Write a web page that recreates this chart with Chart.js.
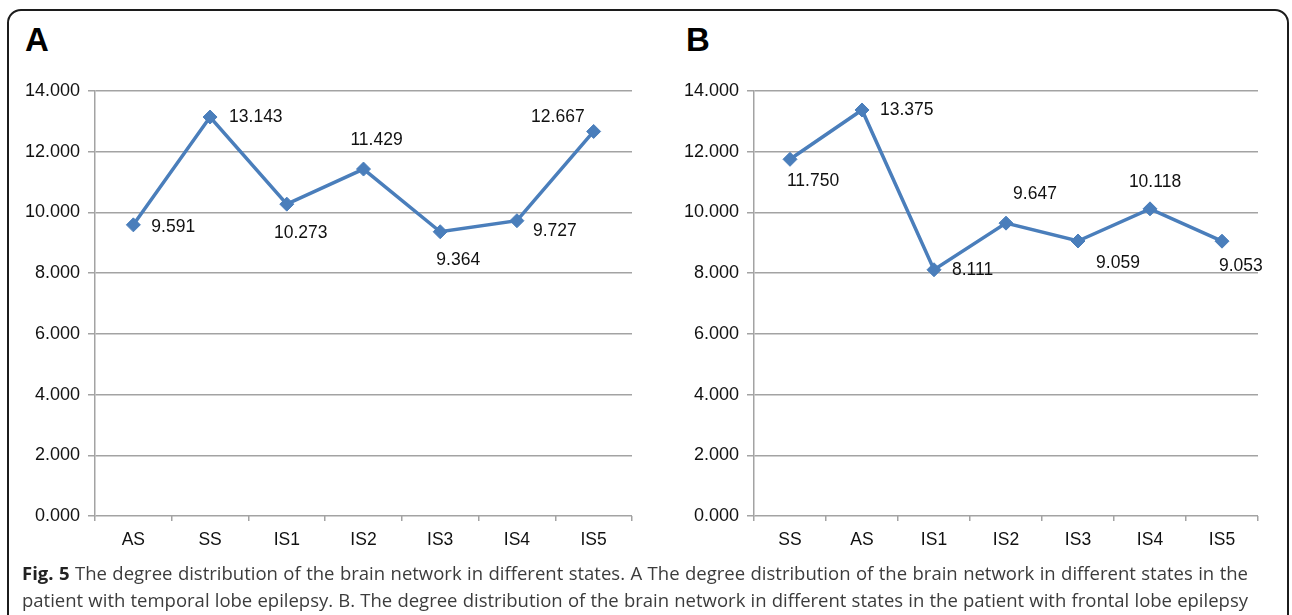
<!DOCTYPE html>
<html>
<head>
<meta charset="utf-8">
<script src="https://cdn.jsdelivr.net/npm/chart.js@4.4.1/dist/chart.umd.min.js"></script>
<style>
  html, body { margin: 0; padding: 0; background: #fff; }
  body { width: 1292px; height: 615px; overflow: hidden; position: relative; }
  .frame {
    position: absolute; left: 7px; top: 9px; width: 1278px; height: 700px;
    border: 2px solid #1c1c1c; border-radius: 14px;
  }
  .letter {
    position: absolute; font: bold 33px "Liberation Sans", Arial, sans-serif;
    line-height: 1; color: #000;
  }
  .panel { position: absolute; }
  .caption {
    position: absolute; left: 22px; top: 559px; width: 1226px;
    font: 18.5px "Open Sans", "Noto Sans", sans-serif; color: #3c3c3c;
    line-height: 27px;
  }
  .caption div { white-space: nowrap; text-align: justify; text-align-last: justify; }
  .caption b { color: #222; }
</style>
</head>
<body>
<div class="frame"></div>
<div class="letter" style="left:25px;top:23px">A</div>
<div class="letter" style="left:686px;top:23px">B</div>
<div class="panel" style="left:20px;top:70px;width:630px;height:500px"><canvas id="chartA"></canvas></div>
<div class="panel" style="left:680px;top:70px;width:600px;height:500px"><canvas id="chartB"></canvas></div>
<div class="caption">
  <div><b>Fig. 5</b> The degree distribution of the brain network in different states. A The degree distribution of the brain network in different states in the</div>
  <div>patient with temporal lobe epilepsy. B. The degree distribution of the brain network in different states in the patient with frontal lobe epilepsy</div>
</div>
<script>
'use strict';

/* ---------- data ---------- */
const statesA = ['AS', 'SS', 'IS1', 'IS2', 'IS3', 'IS4', 'IS5'];
const degreeA = [9.591, 13.143, 10.273, 11.429, 9.364, 9.727, 12.667];

const statesB = ['SS', 'AS', 'IS1', 'IS2', 'IS3', 'IS4', 'IS5'];
const degreeB = [11.750, 13.375, 8.111, 9.647, 9.059, 10.118, 9.053];

const yTicks = [0, 2, 4, 6, 8, 10, 12, 14];

/* label placement next to each point: [align, dx, dy] */
const placeA = [['left', 18, 2], ['left', 19, 0], ['center', 14, 29], ['center', 13, -29],
                ['center', 18, 28], ['left', 16, 10], ['right', -9, -14]];
const placeB = [['center', 23, 22], ['left', 18, 0], ['left', 18, 0], ['center', 29, -29],
                ['center', 40, 22], ['center', 5, -27], ['left', -3, 25]];

const BLUE = '#4a7ebb';
const GRID = '#a3a3a3';
const FONT = '"Liberation Sans", Arial, sans-serif';

/* draws the value next to every point */
const valueLabels = {
  id: 'valueLabels',
  afterDatasetsDraw(chart, args, opts) {
    const ctx = chart.ctx;
    const meta = chart.getDatasetMeta(0);
    const vals = chart.data.datasets[0].data;
    ctx.save();
    ctx.font = '17.5px ' + FONT;
    ctx.fillStyle = '#111';
    ctx.textBaseline = 'middle';
    meta.data.forEach((pt, i) => {
      const p = opts.place[i];
      ctx.textAlign = p[0];
      ctx.fillText(vals[i].toFixed(3), pt.x + p[1], pt.y + p[2]);
    });
    ctx.restore();
  }
};

function makeChart(id, labels, data, place, yWidth, padRight) {
  return new Chart(document.getElementById(id), {
    type: 'line',
    data: {
      labels,
      datasets: [{
        data,
        borderColor: BLUE,
        backgroundColor: BLUE,
        borderWidth: 3.5,
        pointStyle: 'rectRot',
        pointRadius: 7,
        pointBorderWidth: 1,
        pointBackgroundColor: BLUE,
        pointBorderColor: BLUE,
        tension: 0
      }]
    },
    options: {
      responsive: true,
      maintainAspectRatio: false,
      animation: false,
      layout: { padding: { top: 21, right: padRight, left: 0, bottom: 0 } },
      plugins: {
        legend: { display: false },
        tooltip: { enabled: false },
        valueLabels: { place }
      },
      scales: {
        x: {
          offset: true,
          grid: { offset: true, drawOnChartArea: false, drawTicks: true, tickLength: 5, color: GRID, lineWidth: 1.5 },
          border: { display: false },
          ticks: { color: '#111', font: { family: FONT, size: 17.5 }, padding: 9, maxRotation: 0, autoSkip: false },
          afterFit: s => { s.height = 54; }
        },
        y: {
          min: 0,
          max: 14,
          afterBuildTicks: s => { s.ticks = yTicks.map(v => ({ value: v })); },
          grid: { color: GRID, lineWidth: 1.5, tickLength: 7 },
          border: { display: true, color: GRID, width: 1.5 },
          ticks: { color: '#111', font: { family: FONT, size: 18 }, padding: 8, callback: v => v.toFixed(3) },
          afterFit: s => { s.width = yWidth; }
        }
      }
    },
    plugins: [valueLabels]
  });
}

makeChart('chartA', statesA, degreeA, placeA, 75, 18);
makeChart('chartB', statesB, degreeB, placeB, 74, 22);
</script>
</body>
</html>
